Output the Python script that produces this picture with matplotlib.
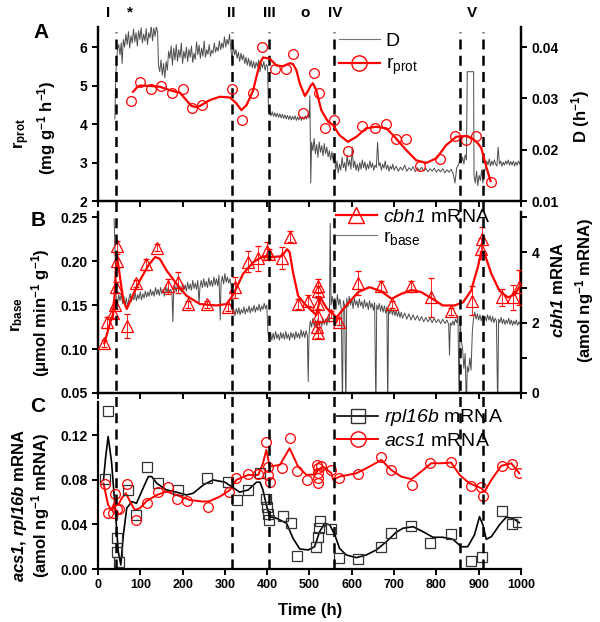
import matplotlib
matplotlib.use('Agg')
import matplotlib.pyplot as plt
from matplotlib.lines import Line2D

plt.rcParams['font.family'] = 'Liberation Sans'
plt.rcParams['mathtext.fontset'] = 'custom'
plt.rcParams['mathtext.rm'] = 'Liberation Sans:regular'
plt.rcParams['mathtext.it'] = 'Liberation Sans:italic:regular'
plt.rcParams['mathtext.bf'] = 'Liberation Sans:bold'
# gene names: italic digits too, so borrow the sf / tt slots
plt.rcParams['mathtext.sf'] = 'Liberation Sans:italic:regular'
plt.rcParams['mathtext.tt'] = 'Liberation Sans:bold:italic'

# ---- panel A: protein production rate (circles + fit) and dilution rate D
prot_pts = [(78, 4.60), (99, 5.10), (125, 4.90), (150, 5.00), (175, 4.80), (200, 4.91),
            (223, 4.41), (246, 4.49), (316, 4.90), (340, 4.10), (367, 4.81), (387, 6.01),
            (419, 5.42), (444, 5.42), (461, 5.82), (485, 4.30), (510, 5.32), (523, 4.81),
            (536, 3.91), (558, 4.10), (591, 3.31), (625, 3.95), (654, 3.90), (680, 4.00),
            (704, 3.60), (727, 3.60), (762, 2.90), (808, 3.10), (844, 3.70), (869, 3.59),
            (893, 3.70), (928, 2.50)]
prot_fit = [(83, 4.84), (92, 4.95), (99, 5.00), (123, 4.99), (146, 4.97), (170, 4.88),
            (194, 4.81), (209, 4.62), (221, 4.47), (232, 4.44), (241, 4.47), (264, 4.62),
            (288, 4.71), (312, 4.69), (327, 4.54), (339, 4.36), (351, 4.49), (360, 4.70),
            (367, 4.88), (375, 5.25), (383, 5.58), (390, 5.73), (406, 5.70), (422, 5.52),
            (438, 5.50), (453, 5.58), (461, 5.56), (469, 5.40), (477, 5.06), (489, 4.73),
            (496, 4.85), (503, 5.00), (508, 5.06), (516, 4.88), (528, 4.36), (544, 4.06),
            (556, 3.97), (571, 3.71), (591, 3.54), (611, 3.67), (634, 3.89), (658, 3.93),
            (682, 3.89), (701, 3.67), (729, 3.32), (752, 3.06), (776, 2.99), (800, 3.11),
            (823, 3.45), (847, 3.67), (870, 3.69), (886, 3.62), (898, 3.50), (906, 3.38),
            (918, 2.89), (928, 2.52)]
d_trace = [(40, 0.026), (41, 0.031), (43, 0.036), (46, 0.0395), (49, 0.0405), (52, 0.0385),
           (55, 0.0408), (57, 0.0368), (60, 0.0415), (63, 0.0400), (66, 0.0425), (69, 0.0405),
           (72, 0.0430), (75, 0.0398), (78, 0.0422), (81, 0.0408), (84, 0.0435), (87, 0.0410),
           (90, 0.0428), (93, 0.0402), (96, 0.0432), (99, 0.0415), (102, 0.0438), (105, 0.0408),
           (108, 0.0425), (111, 0.0412), (114, 0.0436), (117, 0.0405), (120, 0.0428), (123, 0.0418),
           (126, 0.0442), (129, 0.0412), (132, 0.0437), (135, 0.0421), (138, 0.0440), (141, 0.0428),
           (143, 0.0365), (146, 0.0352), (149, 0.0375), (152, 0.0345), (155, 0.0368), (158, 0.0340),
           (161, 0.0372), (164, 0.0355), (167, 0.0392), (170, 0.0378), (173, 0.0402), (176, 0.0365),
           (179, 0.0398), (182, 0.0375), (185, 0.0405), (188, 0.0372), (191, 0.0395), (194, 0.0380),
           (197, 0.0408), (200, 0.0368), (203, 0.0392), (206, 0.0378), (209, 0.0400), (212, 0.0372),
           (215, 0.0396), (218, 0.0380), (221, 0.0402), (224, 0.0370), (227, 0.0388), (230, 0.0376),
           (233, 0.0410), (236, 0.0385), (239, 0.0404), (242, 0.0378), (245, 0.0398), (248, 0.0382),
           (251, 0.0412), (254, 0.0380), (257, 0.0395), (260, 0.0386), (263, 0.0405), (266, 0.0382),
           (269, 0.0394), (272, 0.0388), (275, 0.0408), (278, 0.0390), (281, 0.0400), (284, 0.0392),
           (287, 0.0412), (290, 0.0395), (293, 0.0408), (296, 0.0398), (299, 0.0420), (302, 0.0400),
           (305, 0.0415), (308, 0.0405), (311, 0.0425), (314, 0.0398), (317, 0.0375), (320, 0.0402),
           (323, 0.0385), (326, 0.0395), (329, 0.0378), (332, 0.0390), (335, 0.0372), (338, 0.0388),
           (341, 0.0375), (344, 0.0385), (347, 0.0368), (350, 0.0380), (353, 0.0365), (356, 0.0378),
           (359, 0.0362), (362, 0.0374), (365, 0.0360), (368, 0.0372), (371, 0.0358), (374, 0.0370),
           (377, 0.0362), (380, 0.0375), (383, 0.0352), (386, 0.0368), (389, 0.0360), (392, 0.0372),
           (395, 0.0355), (398, 0.0366), (401, 0.0362), (403, 0.0275), (406, 0.0272), (409, 0.0266),
           (412, 0.0274), (415, 0.0265), (418, 0.0272), (421, 0.0264), (424, 0.0271), (427, 0.0263),
           (430, 0.0270), (433, 0.0262), (436, 0.0269), (439, 0.0261), (442, 0.0268), (445, 0.0260),
           (448, 0.0267), (451, 0.0259), (454, 0.0266), (457, 0.0258), (460, 0.0265), (463, 0.0259),
           (466, 0.0266), (469, 0.0257), (472, 0.0264), (475, 0.0258), (478, 0.0265), (481, 0.0257),
           (484, 0.0264), (487, 0.0259), (490, 0.0266), (493, 0.0260), (496, 0.0268), (499, 0.0262),
           (501, 0.0305), (503, 0.0135), (505, 0.0215), (508, 0.0198), (511, 0.0222), (514, 0.0192),
           (517, 0.0210), (520, 0.0185), (523, 0.0215), (526, 0.0195), (529, 0.0208), (532, 0.0188),
           (535, 0.0212), (538, 0.0192), (541, 0.0205), (544, 0.0186), (547, 0.0198), (550, 0.0180),
           (553, 0.0196), (556, 0.0178), (559, 0.0190), (562, 0.0160), (565, 0.0178), (568, 0.0155),
           (571, 0.0172), (574, 0.0160), (577, 0.0185), (580, 0.0165), (583, 0.0175), (586, 0.0158),
           (589, 0.0190), (592, 0.0168), (595, 0.0180), (598, 0.0162), (601, 0.0205), (604, 0.0165),
           (607, 0.0178), (610, 0.0160), (613, 0.0172), (616, 0.0158), (619, 0.0175), (622, 0.0162),
           (625, 0.0180), (628, 0.0165), (631, 0.0176), (634, 0.0160), (637, 0.0172), (640, 0.0163),
           (643, 0.0178), (646, 0.0165), (649, 0.0174), (652, 0.0160), (655, 0.0170), (658, 0.0165),
           (661, 0.0215), (664, 0.0168), (667, 0.0175), (670, 0.0160), (673, 0.0172), (676, 0.0164),
           (679, 0.0178), (682, 0.0162), (685, 0.0170), (688, 0.0158), (691, 0.0168), (694, 0.0162),
           (697, 0.0172), (700, 0.0160), (705, 0.0168), (710, 0.0158), (715, 0.0166), (720, 0.0160),
           (725, 0.0170), (730, 0.0158), (735, 0.0165), (740, 0.0160), (745, 0.0167), (750, 0.0157),
           (755, 0.0165), (760, 0.0159), (765, 0.0166), (770, 0.0158), (775, 0.0164), (780, 0.0157),
           (785, 0.0163), (790, 0.0158), (795, 0.0164), (800, 0.0156), (805, 0.0162), (810, 0.0157),
           (815, 0.0163), (820, 0.0155), (825, 0.0161), (830, 0.0156), (835, 0.0162), (840, 0.0152),
           (844, 0.0135), (848, 0.0165), (852, 0.0170), (856, 0.0182), (859, 0.0175), (862, 0.0186),
           (865, 0.0172), (868, 0.0190), (871, 0.0180), (873, 0.0352), (888, 0.0352), (889, 0.0150),
           (892, 0.0135), (895, 0.0158), (898, 0.0130), (901, 0.0150), (904, 0.0140), (907, 0.0160),
           (910, 0.0135), (913, 0.0155), (916, 0.0165), (919, 0.0178), (922, 0.0170), (925, 0.0182),
           (928, 0.0168), (931, 0.0178), (934, 0.0170), (937, 0.0180), (940, 0.0172), (943, 0.0168),
           (946, 0.0205), (949, 0.0172), (952, 0.0178), (955, 0.0168), (958, 0.0176), (961, 0.0170),
           (964, 0.0178), (967, 0.0172), (970, 0.0180), (973, 0.0170), (976, 0.0177), (979, 0.0170),
           (982, 0.0178), (985, 0.0168), (988, 0.0176), (991, 0.0170), (994, 0.0178), (997, 0.0172),
           (1000, 0.0176)]

# ---- panel B: cbh1 mRNA (triangles, error, fit) and r_base
cbh1_pts = [(15, 1.41, 0.10), (22, 2.01, 0.15), (36, 2.27, 0.15), (40, 2.49, 0.10),
            (42, 3.01, 0.15), (44, 4.17, 0.15), (46, 3.75, 0.20), (68, 1.91, 0.35),
            (89, 3.12, 0.10), (113, 3.66, 0.15), (139, 4.13, 0.10), (165, 3.03, 0.20),
            (188, 3.15, 0.30), (213, 2.53, 0.10), (258, 2.53, 0.10), (308, 2.44, 0.10),
            (324, 3.01, 0.30), (354, 3.73, 0.30), (378, 3.83, 0.35), (400, 4.04, 0.25),
            (404, 3.95, 0.15), (434, 3.84, 0.30), (454, 4.45, 0.15), (472, 2.53, 0.15),
            (497, 2.63, 0.15), (520, 3.04, 0.20), (521, 2.90, 0.15), (520, 2.54, 0.15),
            (519, 2.20, 0.15), (518, 1.87, 0.15), (519, 1.72, 0.15), (550, 2.22, 0.10),
            (569, 2.03, 0.10), (615, 3.13, 0.35), (670, 3.05, 0.15), (695, 2.53, 0.10),
            (741, 3.03, 0.15), (788, 2.72, 0.55), (835, 2.32, 0.10), (884, 2.63, 0.40),
            (906, 4.10, 0.30), (908, 4.38, 0.35), (956, 2.72, 0.25), (981, 2.72, 0.35),
            (996, 3.01, 0.50)]
cbh1_fit = [(15, 1.41), (28, 1.97), (36, 2.26), (40, 2.90), (42, 3.49), (46, 3.82), (52, 3.30),
            (60, 2.63), (68, 2.39), (80, 2.72), (99, 3.20), (119, 3.63), (135, 3.87), (146, 3.82),
            (162, 3.49), (186, 3.10), (209, 2.77), (241, 2.53), (280, 2.49), (304, 2.53),
            (320, 2.80), (343, 3.39), (367, 3.72), (390, 3.89), (414, 3.87), (434, 3.89),
            (447, 4.09), (453, 4.01), (461, 3.44), (473, 2.77), (489, 2.53), (505, 2.34),
            (516, 2.22), (526, 2.72), (540, 2.42), (564, 2.15), (587, 2.49), (615, 2.87),
            (642, 3.01), (670, 2.89), (694, 2.68), (717, 2.82), (741, 2.93), (764, 2.87),
            (788, 2.70), (815, 2.49), (843, 2.49), (863, 2.58), (882, 2.91), (898, 3.58),
            (906, 4.01), (914, 3.96), (930, 3.39), (949, 2.91), (969, 2.72), (985, 2.80),
            (996, 3.01)]
rbase_trace = [(38, 0.248), (39, 0.235), (41, 0.200), (43, 0.160), (46, 0.150), (49, 0.162),
               (52, 0.155), (55, 0.163), (58, 0.152), (61, 0.160), (64, 0.150), (67, 0.158),
               (70, 0.148), (73, 0.157), (76, 0.163), (79, 0.154), (82, 0.160), (85, 0.156),
               (88, 0.164), (91, 0.155), (94, 0.162), (97, 0.157), (100, 0.165), (103, 0.156),
               (106, 0.163), (109, 0.158), (112, 0.166), (115, 0.159), (118, 0.165), (121, 0.160),
               (124, 0.168), (127, 0.161), (130, 0.166), (133, 0.160), (136, 0.170), (139, 0.162),
               (142, 0.168), (145, 0.161), (148, 0.170), (151, 0.163), (154, 0.168), (157, 0.160),
               (160, 0.172), (163, 0.164), (166, 0.170), (169, 0.165), (172, 0.168), (175, 0.163),
               (177, 0.131), (179, 0.165), (182, 0.172), (185, 0.165), (188, 0.174), (191, 0.166),
               (194, 0.171), (197, 0.165), (200, 0.175), (203, 0.167), (206, 0.173), (209, 0.166),
               (212, 0.176), (215, 0.168), (218, 0.174), (221, 0.167), (224, 0.178), (227, 0.169),
               (230, 0.175), (233, 0.168), (236, 0.178), (239, 0.152), (241, 0.170), (244, 0.178),
               (247, 0.170), (250, 0.180), (253, 0.171), (256, 0.177), (259, 0.170), (262, 0.181),
               (265, 0.172), (268, 0.178), (271, 0.171), (274, 0.182), (277, 0.173), (280, 0.180),
               (283, 0.172), (286, 0.184), (289, 0.133), (291, 0.175), (294, 0.183), (297, 0.174),
               (300, 0.186), (303, 0.176), (306, 0.182), (309, 0.175), (312, 0.180), (315, 0.172),
               (318, 0.140), (321, 0.145), (324, 0.138), (327, 0.146), (330, 0.140), (333, 0.147),
               (336, 0.139), (339, 0.145), (342, 0.141), (345, 0.148), (348, 0.140), (351, 0.146),
               (354, 0.142), (357, 0.149), (360, 0.141), (363, 0.147), (366, 0.143), (369, 0.150),
               (372, 0.142), (375, 0.148), (378, 0.144), (381, 0.151), (384, 0.143), (387, 0.149),
               (390, 0.145), (393, 0.152), (396, 0.146), (399, 0.150), (402, 0.118), (405, 0.112),
               (408, 0.119), (411, 0.110), (414, 0.118), (417, 0.111), (420, 0.120), (423, 0.112),
               (426, 0.117), (429, 0.110), (432, 0.119), (435, 0.112), (438, 0.118), (441, 0.111),
               (444, 0.120), (447, 0.112), (450, 0.117), (453, 0.110), (456, 0.119), (459, 0.113),
               (462, 0.118), (465, 0.111), (468, 0.120), (471, 0.113), (474, 0.118), (477, 0.112),
               (480, 0.122), (483, 0.114), (486, 0.120), (489, 0.113), (492, 0.121), (495, 0.115),
               (497, 0.063), (499, 0.118), (502, 0.132), (505, 0.125), (508, 0.135), (511, 0.126),
               (514, 0.133), (517, 0.124), (520, 0.134), (523, 0.127), (526, 0.132), (529, 0.126),
               (532, 0.135), (535, 0.128), (538, 0.134), (541, 0.127), (544, 0.136), (547, 0.130),
               (549, 0.243), (551, 0.150), (554, 0.160), (557, 0.148), (560, 0.158), (563, 0.145),
               (566, 0.162), (569, 0.150), (572, 0.157), (575, 0.146), (578, 0.030), (580, 0.155),
               (583, 0.150), (586, 0.030), (588, 0.158), (591, 0.148), (594, 0.160), (597, 0.150),
               (600, 0.157), (603, 0.146), (606, 0.158), (609, 0.150), (612, 0.155), (615, 0.147),
               (618, 0.157), (621, 0.149), (624, 0.154), (627, 0.146), (630, 0.156), (633, 0.148),
               (636, 0.153), (639, 0.145), (642, 0.155), (645, 0.147), (648, 0.152), (651, 0.144),
               (654, 0.153), (657, 0.030), (659, 0.150), (662, 0.145), (665, 0.152), (668, 0.143),
               (671, 0.150), (674, 0.142), (677, 0.149), (680, 0.141), (683, 0.148), (685, 0.030),
               (687, 0.146), (690, 0.140), (693, 0.147), (696, 0.139), (699, 0.145), (702, 0.138),
               (705, 0.144), (708, 0.137), (711, 0.143), (714, 0.136), (717, 0.142), (720, 0.135),
               (725, 0.141), (730, 0.134), (735, 0.140), (740, 0.133), (745, 0.139), (750, 0.133),
               (755, 0.138), (760, 0.132), (765, 0.137), (770, 0.131), (775, 0.136), (780, 0.131),
               (785, 0.135), (790, 0.130), (795, 0.135), (800, 0.130), (805, 0.134), (810, 0.129),
               (815, 0.134), (820, 0.129), (825, 0.133), (829, 0.128), (831, 0.093), (833, 0.130),
               (836, 0.127), (839, 0.132), (842, 0.127), (845, 0.134), (848, 0.130), (851, 0.138),
               (854, 0.030), (856, 0.135), (859, 0.110), (862, 0.100), (865, 0.078), (868, 0.095),
               (871, 0.030), (873, 0.080), (876, 0.074), (879, 0.090), (882, 0.076), (885, 0.120),
               (888, 0.136), (891, 0.142), (894, 0.134), (897, 0.140), (900, 0.133), (903, 0.139),
               (906, 0.132), (909, 0.138), (912, 0.131), (915, 0.137), (918, 0.132), (921, 0.139),
               (924, 0.133), (927, 0.138), (930, 0.131), (933, 0.137), (936, 0.130), (939, 0.135),
               (942, 0.132), (945, 0.030), (947, 0.134), (950, 0.130), (953, 0.136), (956, 0.129),
               (959, 0.134), (962, 0.128), (965, 0.133), (968, 0.129), (971, 0.135), (974, 0.128),
               (977, 0.133), (980, 0.127), (983, 0.132), (986, 0.128), (989, 0.133), (992, 0.127),
               (995, 0.131), (998, 0.128), (1000, 0.130)]

# ---- panel C: rpl16b and acs1 mRNA
rpl_pts = [(17, 0.0807), (24, 0.1415), (44, 0.0276), (46, 0.0156), (50, 0.0066), (72, 0.071),
           (91, 0.0486), (115, 0.0915), (142, 0.077), (190, 0.071), (258, 0.082), (308, 0.078),
           (328, 0.062), (355, 0.071), (383, 0.086), (397, 0.063), (399, 0.056), (401, 0.049),
           (404, 0.044), (438, 0.048), (456, 0.041), (471, 0.012), (516, 0.020), (519, 0.029),
           (522, 0.037), (526, 0.043), (552, 0.036), (570, 0.010), (615, 0.009), (670, 0.020),
           (693, 0.032), (741, 0.039), (786, 0.023), (835, 0.031), (882, 0.007), (908, 0.011),
           (956, 0.052), (978, 0.040), (994, 0.042)]
rpl_fit = [(13, 0.080), (18, 0.100), (24, 0.119), (32, 0.0965), (40, 0.0576), (48, 0.0156),
           (54, 0.0036), (60, 0.0306), (68, 0.0546), (80, 0.0605), (91, 0.059), (103, 0.0695),
           (119, 0.083), (127, 0.083), (139, 0.077), (162, 0.071), (186, 0.069), (209, 0.0665),
           (225, 0.068), (249, 0.0755), (272, 0.080), (300, 0.078), (316, 0.074), (335, 0.069),
           (355, 0.071), (375, 0.078), (383, 0.078), (390, 0.071), (398, 0.0576), (406, 0.047),
           (422, 0.0456), (446, 0.041), (461, 0.0276), (477, 0.018), (497, 0.0171), (512, 0.020),
           (524, 0.0336), (536, 0.041), (548, 0.0396), (560, 0.0306), (571, 0.0186), (587, 0.0126),
           (611, 0.0102), (634, 0.0126), (658, 0.0171), (682, 0.0246), (705, 0.033), (721, 0.0366),
           (745, 0.038), (768, 0.0336), (792, 0.0285), (815, 0.0285), (839, 0.0267), (859, 0.020),
           (874, 0.020), (890, 0.0306), (902, 0.047), (910, 0.0396), (918, 0.0267), (930, 0.029),
           (949, 0.0396), (965, 0.0465), (981, 0.0456), (996, 0.0416)]
acs_pts = [(17, 0.0762), (24, 0.050), (36, 0.050), (40, 0.0672), (44, 0.054), (50, 0.054),
           (69, 0.076), (91, 0.044), (115, 0.059), (142, 0.0695), (166, 0.074), (187, 0.063),
           (211, 0.061), (260, 0.056), (310, 0.0695), (327, 0.0815), (355, 0.085), (379, 0.0854),
           (398, 0.1145), (402, 0.092), (402, 0.0845), (406, 0.078), (434, 0.091), (453, 0.118),
           (471, 0.088), (495, 0.080), (518, 0.0935), (519, 0.0905), (520, 0.086), (520, 0.0815),
           (520, 0.077), (528, 0.0926), (552, 0.089), (570, 0.082), (615, 0.0854), (670, 0.1004),
           (693, 0.089), (743, 0.0755), (786, 0.095), (835, 0.0965), (882, 0.0746), (906, 0.0735),
           (910, 0.0656), (956, 0.0926), (979, 0.0944), (996, 0.086)]
acs_fit = [(13, 0.077), (24, 0.0576), (32, 0.053), (40, 0.0605), (48, 0.0576), (56, 0.0636),
           (66, 0.068), (76, 0.0605), (87, 0.053), (99, 0.0546), (115, 0.061), (139, 0.0665),
           (162, 0.0695), (186, 0.0665), (217, 0.062), (249, 0.0605), (264, 0.061), (288, 0.065),
           (312, 0.071), (327, 0.080), (355, 0.0845), (379, 0.0845), (390, 0.095), (398, 0.107),
           (406, 0.092), (430, 0.0935), (453, 0.1085), (473, 0.092), (493, 0.0845), (512, 0.085),
           (520, 0.089), (532, 0.092), (552, 0.086), (556, 0.080), (571, 0.083), (611, 0.086),
           (642, 0.092), (670, 0.098), (693, 0.089), (717, 0.083), (741, 0.0807), (764, 0.0875),
           (788, 0.095), (812, 0.095), (835, 0.0956), (855, 0.0845), (878, 0.077), (906, 0.0726),
           (914, 0.0695), (930, 0.080), (953, 0.0926), (977, 0.095), (996, 0.086)]

phase_times = [42, 318, 404, 557, 856, 910]
phase_marks = [('I', 24), ('*', 76), ('II', 316), ('III', 406), ('o', 489), ('IV', 560), ('V', 883)]

RED = '#ff0000'
GREY = '#4d4d4d'

fig = plt.figure(figsize=(6, 6.22), dpi=100)
L, W = 0.1633, 0.705
axA = fig.add_axes([L, 0.6768, W, 0.2797])
axB = fig.add_axes([L, 0.3682, W, 0.2910])
axC = fig.add_axes([L, 0.0852, W, 0.2685])
axA2 = axA.twinx()
axB2 = axB.twinx()


def style(ax, right=False):
    ax.spines['top'].set_visible(False)
    for s in ax.spines.values():
        s.set_linewidth(1.6)
    ax.spines['right'].set_visible(right)
    ax.tick_params(direction='out', length=4, width=1.4, labelsize=10)
    ax.set_xlim(0, 1000)


for ax in (axA, axB, axC):
    style(ax, right=ax is not axC)
    ax.set_xticks(range(0, 1001, 100))
for ax in (axA2, axB2):
    style(ax, right=True)
axA.tick_params(axis='x', labelbottom=False)
axB.tick_params(axis='x', labelbottom=False)
axC.tick_params(axis='x', labelsize=9)

# A
t, v = zip(*d_trace)
axA2.plot(t, v, color=GREY, lw=0.7, zorder=1)
t, v = zip(*prot_fit)
axA.plot(t, v, color=RED, lw=1.6, zorder=3)
t, v = zip(*prot_pts)
axA.plot(t, v, 'o', ms=7, mfc='none', mec=RED, mew=0.9, zorder=4)
axA.set_zorder(axA2.get_zorder() + 1)
axA.patch.set_visible(False)
axA.set_ylim(2, 6.52)
axA.set_yticks([2, 3, 4, 5, 6])
axA2.set_ylim(0.01, 0.0439)
axA2.set_yticks([0.01, 0.02, 0.03, 0.04])
axA2.set_yticklabels(['0.01', '0.02', '0.03', '0.04'])

# B
t, v = zip(*rbase_trace)
axB.plot(t, v, color=GREY, lw=0.7, zorder=1)
axB.set_ylim(0.05, 0.256)
axB.set_yticks([0.05, 0.10, 0.15, 0.20, 0.25])
axB.set_yticklabels(['0.05', '0.10', '0.15', '0.20', '0.25'])
t, v = zip(*cbh1_fit)
axB2.plot(t, v, color=RED, lw=1.6, zorder=3)
t, v, e = zip(*cbh1_pts)
axB2.errorbar(t, v, yerr=e, fmt='^', ms=8, mfc='none', mec=RED, mew=0.9,
              ecolor=RED, elinewidth=0.6, capsize=2.5, capthick=0.6, zorder=4)
axB2.set_ylim(0, 5.15)
axB2.set_yticks([0, 1, 2, 3, 4, 5])
axB2.set_yticklabels(['0', '', '2', '', '4', ''])

# C
t, v = zip(*rpl_fit)
axC.plot(t, v, color='black', lw=1.2, zorder=2)
t, v = zip(*rpl_pts)
axC.plot(t, v, 's', ms=6.5, mfc='none', mec='#333333', mew=0.9, zorder=3)
t, v = zip(*acs_fit)
axC.plot(t, v, color=RED, lw=1.4, zorder=2)
t, v = zip(*acs_pts)
axC.plot(t, v, 'o', ms=7, mfc='none', mec=RED, mew=0.9, zorder=3)
axC.set_ylim(0, 0.15)
axC.set_yticks([0, 0.04, 0.08, 0.12])
axC.set_yticklabels(['0.00', '0.04', '0.08', '0.12'])

for ax in (axA, axA2, axB, axB2, axC):
    for lbl in ax.get_xticklabels() + ax.get_yticklabels():
        lbl.set_fontweight('bold')

# legends
leg_kw = dict(frameon=False, prop={'size': 14}, handlelength=2.1,
              handletextpad=0.3, borderpad=0, borderaxespad=0, loc='upper left',
              bbox_transform=fig.transFigure)
hA = [Line2D([], [], color='#777777', lw=0.8),
      Line2D([], [], color=RED, lw=1.6, marker='o', ms=11, mfc='none', mec=RED)]
axA.legend(hA, ['D', r'r$_{\mathrm{prot}}$'], bbox_to_anchor=(0.565, 0.948),
           labelspacing=0.3, **leg_kw)
hB = [Line2D([], [], color=RED, lw=1.6, marker='^', ms=12, mfc='none', mec=RED),
      Line2D([], [], color='#777777', lw=0.8)]
axB2.legend(hB, [r'$\mathsf{cbh1}$ mRNA', r'r$_{\mathrm{base}}$'], bbox_to_anchor=(0.56, 0.665),
            labelspacing=0.1, **leg_kw)
hC = [Line2D([], [], color='black', lw=1.2, marker='s', ms=10, mfc='none', mec='#333333'),
      Line2D([], [], color=RED, lw=1.4, marker='o', ms=11, mfc='none', mec=RED)]
axC.legend(hC, [r'$\mathsf{rpl16b}$ mRNA', r'$\mathsf{acs1}$ mRNA'], bbox_to_anchor=(0.562, 0.345),
           labelspacing=0.2, **leg_kw)

# phase lines across all panels
axL = fig.add_axes([L, 0.0852, W, 0.9566 - 0.0852])
axL.set_xlim(0, 1000)
axL.set_ylim(0, 1)
axL.axis('off')
for pt in phase_times:
    axL.plot([pt, pt], [0, 0.99], color='black', lw=1.8, linestyle=(0, (4, 2.5)))
for lab, pt in phase_marks:
    axL.text(pt, 1.026, lab, ha='center', va='center', fontsize=11, fontweight='bold')

# panel letters
fig.text(0.068, 0.947, 'A', fontsize=15, fontweight='bold', ha='center', va='center')
fig.text(0.063, 0.646, 'B', fontsize=15, fontweight='bold', ha='center', va='center')
fig.text(0.063, 0.346, 'C', fontsize=15, fontweight='bold', ha='center', va='center')

# axis labels
lab_kw = dict(rotation=90, ha='center', va='center', fontsize=12, fontweight='bold')
fig.text(0.037, 0.785, r'r$_{\mathbf{prot}}$', **lab_kw)
fig.text(0.078, 0.795, r'(mg g$^{\mathbf{-1}}$ h$^{\mathbf{-1}}$)', **lab_kw)
fig.text(0.027, 0.495, r'r$_{\mathbf{base}}$', **lab_kw)
fig.text(0.067, 0.497, r'($\mathbf{\mu}$mol min$^{\mathbf{-1}}$ g$^{\mathbf{-1}}$)', **lab_kw)
fig.text(0.032, 0.188, r'$\mathtt{acs1}$, $\mathtt{rpl16b}$ mRNA', **lab_kw)
fig.text(0.067, 0.188, r'(amol ng$^{\mathbf{-1}}$ mRNA)', **lab_kw)
fig.text(0.967, 0.812, r'D (h$^{\mathbf{-1}}$)', **lab_kw)
fig.text(0.93, 0.534, r'$\mathtt{cbh1}$ mRNA', **lab_kw)
fig.text(0.975, 0.534, r'(amol ng$^{\mathbf{-1}}$ mRNA)', **lab_kw)
fig.text(0.517, 0.019, 'Time (h)', ha='center', va='center', fontsize=12, fontweight='bold')

fig.savefig('out.png', dpi=100)
